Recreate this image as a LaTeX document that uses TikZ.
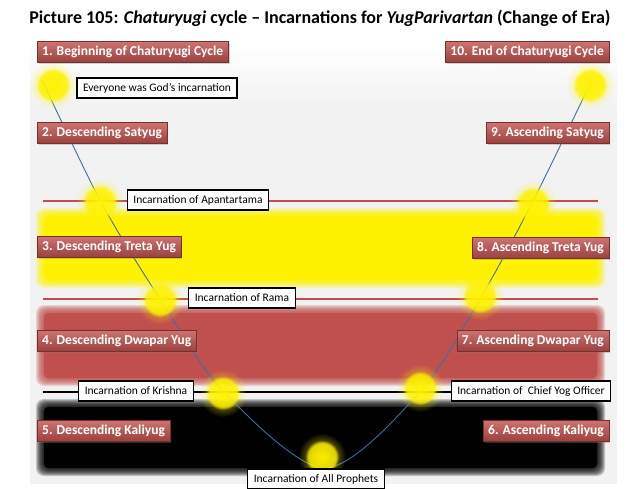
\documentclass[tikz,border=0pt]{standalone}
\usepackage{fontspec}
\setmainfont{Carlito}
\usetikzlibrary{positioning, fadings, shadows}
\definecolor{yugred}{HTML}{C0504D}
\definecolor{yugblue}{HTML}{3A6EA5}
\definecolor{bggray}{HTML}{F2F2F2}
\tikzfading[name=softglow, inner color=transparent!0, outer color=transparent!100]
\tikzset{
  yuglabel/.style={draw=yugred!60!black, line width=0.4pt, top color=yugred!80!white, bottom color=yugred!80!black,
    text=white, font=\fontsize{13.5}{15}\selectfont\bfseries, minimum height=21pt, inner xsep=5pt, inner ysep=0pt,
    drop shadow={shadow xshift=1.5pt, shadow yshift=-1.5pt, opacity=0.35}},
  incbox/.style={draw=black, line width=1.2pt, fill=white, font=\fontsize{11.5}{13}\selectfont,
    minimum height=20pt, inner xsep=6pt, inner ysep=0pt},
  glow/.style={fill=yellow, path fading=circle with fuzzy edge 20 percent, opacity=0.8},
  glowhalo/.style={fill=yellow, path fading=softglow, opacity=0.9},
  eraline/.style={line width=2pt}
}

\begin{document}
\begin{tikzpicture}[x=1pt, y=-1pt]
    \useasboundingbox (0,0) rectangle (640,489);
    \fill[white] (0,0) rectangle (640,489);
    % Backdrop
    \shade[top color=white, bottom color=bggray] (30,40) rectangle (617,110);
    \fill[bggray] (30,110) rectangle (617,484);
    % Era bands with soft edges
    \foreach \col/\ya/\yb in {yellow/208/288, yugred/305/386, black/399/476} {
        \foreach \k in {0,1,...,7}
            \fill[\col, opacity=0.2, rounded corners=8pt] (36+\k, \ya+\k) rectangle (605-\k, \yb-\k);
        \fill[\col, rounded corners=4pt] (44, \ya+8) rectangle (597, \yb-8);
    }
    \draw[eraline, yugred] (43,201) -- (598,201);
    \draw[eraline, yugred] (43,299) -- (598,299);
    \draw[eraline, black] (43,392) -- (598,392);

    \node[font=\fontsize{18}{21}\selectfont\bfseries] (title) at (320,18)
        {Picture 105: \textit{Chaturyugi} cycle – Incarnations for \textit{YugParivartan} (Change of Era)};

    % Cycle curve
    \coordinate (c0) at (42,80);
    \coordinate (c1) at (101,202);
    \coordinate (c2) at (160,299);
    \coordinate (c3) at (224,392);
    \coordinate (cb) at (325,468);
    \coordinate (c4) at (420,392);
    \coordinate (c5) at (480,299);
    \coordinate (c6) at (533,201);
    \coordinate (c7) at (591,82);
    \draw[yugblue, line width=0.9pt] plot[smooth, tension=0.5] coordinates {(c0) (c1) (c2) (c3) (cb) (c4) (c5) (c6) (c7)};

    % Incarnation glows
    \foreach \gx/\gy in {53/85, 100/202, 160/300, 223/393, 322/457, 420/388, 480/296, 533/204, 590/85} {
        \fill[glowhalo] (\gx,\gy) circle (24pt);
        \fill[glow] (\gx,\gy) circle (17pt);
    }

    % Yug labels
    \node[yuglabel, anchor=west] (beg) at (37,52) {1. Beginning of Chaturyugi Cycle};
    \node[yuglabel, anchor=west] (dsat) at (37,133) {2. Descending Satyug};
    \node[yuglabel, anchor=west] (dtre) at (37,247) {3. Descending Treta Yug};
    \node[yuglabel, anchor=west] (ddwa) at (37,341) {4. Descending Dwapar Yug};
    \node[yuglabel, anchor=west] (dkal) at (37,431) {5. Descending Kaliyug};
    \node[yuglabel, anchor=east] (akal) at (609,431) {6. Ascending Kaliyug};
    \node[yuglabel, anchor=east] (adwa) at (609,341) {7. Ascending Dwapar Yug};
    \node[yuglabel, anchor=east] (atre) at (609,248) {8. Ascending Treta Yug};
    \node[yuglabel, anchor=east] (asat) at (609,133) {9. Ascending Satyug};
    \node[yuglabel, anchor=east] (fin) at (609,52) {10. End of Chaturyugi Cycle};

    % Incarnation boxes
    \node[incbox] (god) at (157,88) {Everyone was God’s incarnation};
    \node[incbox] (apan) at (198,200) {Incarnation of Apantartama};
    \node[incbox] (rama) at (242,298) {Incarnation of Rama};
    \node[incbox] (kri) at (136,391) {Incarnation of Krishna};
    \node[incbox] (cyo) at (531,391) {Incarnation of\ \ Chief Yog Officer};
    \node[incbox] (proph) at (316,479) {Incarnation of All Prophets};
\end{tikzpicture}
\end{document}
